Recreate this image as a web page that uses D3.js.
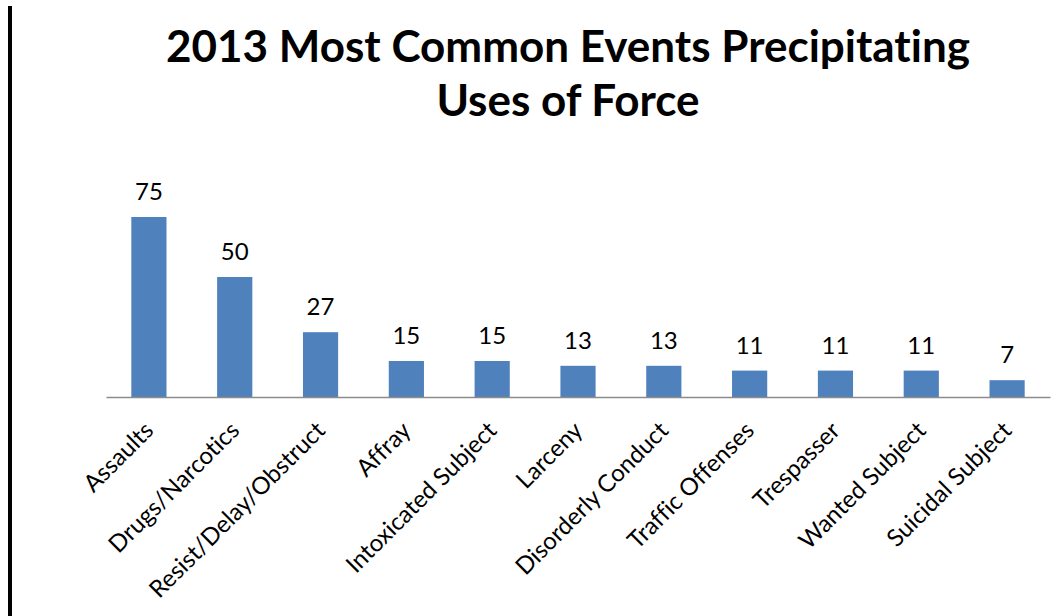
<!DOCTYPE html>
<html>
<head>
<meta charset="utf-8">
<script src="https://cdn.jsdelivr.net/npm/d3@7"></script>
<style>
  html, body { margin: 0; padding: 0; background: #fff; }
  svg { display: block; }
  text { font-family: Lato, "Open Sans", "DejaVu Sans", sans-serif; fill: #000; }
</style>
</head>
<body>
<svg id="chart" width="1063" height="616"></svg>
<script>
// Events that most often led to a use of force in 2013
const categories = [
  "Assaults", "Drugs/Narcotics", "Resist/Delay/Obstruct", "Affray",
  "Intoxicated Subject", "Larceny", "Disorderly Conduct", "Traffic Offenses",
  "Trespasser", "Wanted Subject", "Suicidal Subject"
];
const counts = [75, 50, 27, 15, 15, 13, 13, 11, 11, 11, 7];
const titleLines = ["2013 Most Common Events Precipitating", "Uses of Force"];

const W = 1063, H = 616;
const svg = d3.select("#chart");

// slide border on the left edge
svg.append("rect")
  .attr("x", 8).attr("y", 6)
  .attr("width", 4).attr("height", H - 6)
  .attr("fill", "#000");

const x = d3.scaleBand()
  .domain(categories)
  .range([106, 1050])
  .paddingInner(0.59)
  .paddingOuter(0.295);

const y = d3.scaleLinear()
  .domain([0, 80])
  .range([397, 205]);

// title
svg.append("text")
  .attr("x", 568)
  .attr("text-anchor", "middle")
  .style("font-weight", "bold")
  .style("font-size", "44px")
  .style("font-feature-settings", '"liga" 0')
  .selectAll("tspan")
  .data(titleLines)
  .join("tspan")
  .attr("x", 568)
  .attr("y", (d, i) => 62 + i * 54)
  .text(d => d);

// bars
svg.append("g")
  .selectAll("rect")
  .data(counts)
  .join("rect")
  .attr("x", (d, i) => x(categories[i]))
  .attr("y", d => y(d))
  .attr("width", x.bandwidth())
  .attr("height", d => y(0) - y(d))
  .attr("fill", "#4F81BD");

// value labels
svg.append("g")
  .selectAll("text")
  .data(counts)
  .join("text")
  .attr("x", (d, i) => x(categories[i]) + x.bandwidth() / 2)
  .attr("y", d => y(d) - 17)
  .attr("text-anchor", "middle")
  .style("font-size", "24px")
  .text(d => d);

// category axis
const axis = svg.append("g")
  .attr("transform", `translate(0,${y(0)})`)
  .call(d3.axisBottom(x).tickSize(0).tickPadding(0));
axis.select(".domain")
  .attr("stroke", "#8c8c8c")
  .attr("stroke-width", 1.5);
axis.selectAll(".tick text")
  .attr("x", 0).attr("y", 0).attr("dy", 0)
  .attr("text-anchor", "end")
  .attr("transform", "translate(6,35) rotate(-45)")
  .style("font-family", 'Lato, "Open Sans", "DejaVu Sans", sans-serif')
  .style("font-size", "24px")
  .style("font-feature-settings", '"liga" 0')
  .attr("fill", "#000");
</script>
</body>
</html>
